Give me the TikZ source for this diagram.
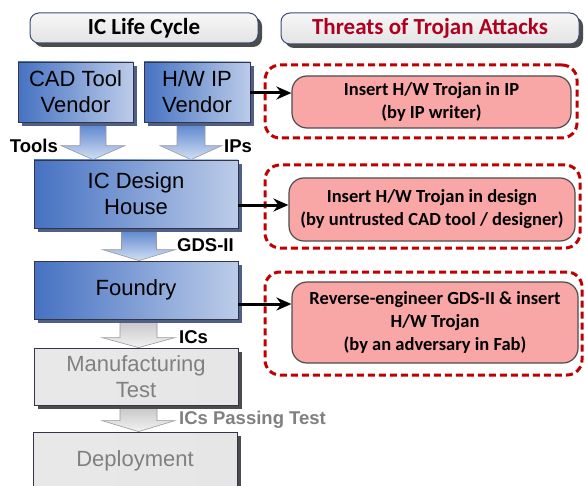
\documentclass[tikz,border=0pt]{standalone}
\usepackage{fontspec}
\setmainfont{Liberation Sans}
\newfontfamily\carl{Carlito}
\usetikzlibrary{calc,shadows,arrows.meta,backgrounds}
\definecolor{blueL}{HTML}{4672C2}
\definecolor{blueR}{HTML}{BCCCE9}
\definecolor{boxborder}{HTML}{33364A}
\definecolor{shadowblue}{HTML}{4F5F85}
\definecolor{arrtop}{HTML}{5682CC}
\definecolor{arrbot}{HTML}{D3DFF3}
\definecolor{graytop}{HTML}{C4C4C4}
\definecolor{graybot}{HTML}{F2F2F2}
\definecolor{grayfill}{HTML}{E6E6E6}
\definecolor{graytext}{HTML}{808080}
\definecolor{pinkfill}{HTML}{F9A6A6}
\definecolor{dashred}{HTML}{C00000}
\definecolor{threatred}{HTML}{B00020}
\definecolor{hdrborder}{HTML}{3A4C78}
\newcommand\blockarr[7]{%
  \path[#1] let \p1=(#3), \p2=(#4) in
    (#2pt-#5pt,\y1) -- (#2pt-#5pt,\y2+#7pt) -- (#2pt-#6pt,\y2+#7pt) -- (#2pt,\y2)
    -- (#2pt+#6pt,\y2+#7pt) -- (#2pt+#5pt,\y2+#7pt) -- (#2pt+#5pt,\y1) -- cycle;}
\begin{document}
\begin{tikzpicture}[x=1pt,y=-1pt,
  hdr/.style={draw=hdrborder, line width=1pt, rounded corners=9pt,
    top color=gray!6, bottom color=gray!22,
    general shadow={shadow xshift=4pt, shadow yshift=-4pt, fill=gray!60!black, rounded corners=9pt},
    font=\carl\bfseries\fontsize{23}{27}\selectfont, inner sep=0pt},
  bluebox/.style={draw=boxborder, line width=0.8pt, left color=blueL, right color=blueR,
    general shadow={shadow xshift=4pt, shadow yshift=-4pt, fill=shadowblue},
    font=\fontsize{22}{26}\selectfont, align=center, inner sep=0pt},
  graybox/.style={draw=boxborder, line width=0.8pt, left color=grayfill!90!white, right color=grayfill,
    general shadow={shadow xshift=4pt, shadow yshift=-4pt, fill=gray!60!black},
    font=\fontsize{22}{26}\selectfont, align=center, inner sep=0pt, text=graytext},
  threat/.style={draw=black!70, line width=1.2pt, fill=pinkfill, rounded corners=15pt,
    font=\carl\bfseries\fontsize{18.5}{23}\selectfont, align=center, inner sep=0pt},
  dashbox/.style={draw=dashred, line width=3pt, dash pattern=on 7pt off 4pt, rounded corners=15pt, inner sep=0pt},
  lbl/.style={font=\bfseries\fontsize{18.5}{20}\selectfont, inner sep=0pt},
  conn/.style={draw=black, line width=3pt, -{Stealth[length=15pt,width=13pt]}},
  barrow/.style={top color=arrtop, bottom color=arrbot, draw=gray!80, line width=0.6pt},
  garrow/.style={top color=graytop, bottom color=graybot, draw=gray!80, line width=0.6pt}]
\clip (0,0) rectangle (585,486);
\useasboundingbox (0,0) rectangle (585,486);

% headers
\node[hdr, minimum width=228pt, minimum height=30pt] (h1) at (144,28) {IC Life Cycle};
\node[hdr, minimum width=298pt, minimum height=31pt, text=threatred] (h2) at (430,28.5) {Threats of Trojan Attacks};

% life cycle boxes
\node[bluebox, minimum width=115pt, minimum height=60pt] (cad) at (75.5,92) {CAD Tool\\Vendor};
\node[bluebox, minimum width=106pt, minimum height=60pt] (hw) at (197,92) {H/W IP\\Vendor};
\node[bluebox, minimum width=204pt, minimum height=68pt] (design) at (136,194) {IC Design\\House};
\node[bluebox, minimum width=204pt, minimum height=58pt] (foundry) at (136,290) {Foundry};
\node[graybox, minimum width=204pt, minimum height=57pt] (mtest) at (136,376.5) {Manufacturing\\Test};
\node[graybox, minimum width=204pt, minimum height=58pt] (deploy) at (135,461) {Deployment};

% block arrows
\begin{pgfonlayer}{background}
\fill[white] (0,0) rectangle (585,486);
\blockarr{barrow}{93}{cad.south}{design.north}{13}{32}{14}
\blockarr{barrow}{191}{hw.south}{design.north}{14}{31}{14}
\blockarr{barrow}{139}{design.south}{foundry.north}{17.5}{36.5}{11}
\blockarr{garrow}{138.5}{foundry.south}{mtest.north}{18.5}{36.5}{10}
\blockarr{garrow}{138.5}{mtest.south}{deploy.north}{18.5}{36.5}{11}
\end{pgfonlayer}

% labels
\node[lbl, anchor=east] (ltools) at (58,146) {Tools};
\node[lbl, anchor=west] (lips) at (224,146) {IPs};
\node[lbl, anchor=west] (lgds) at (177,245) {GDS-II};
\node[lbl, anchor=west] (lics) at (179,337) {ICs};
\node[lbl, anchor=west, text=graytext] (lpass) at (179,420) {ICs Passing Test};

% threats
\node[dashbox, minimum width=312pt, minimum height=73pt] (d1) at (421,101.5) {};
\node[dashbox, minimum width=315pt, minimum height=83pt] (d2) at (422.5,206.5) {};
\node[dashbox, minimum width=317pt, minimum height=103pt] (d3) at (423.5,323.5) {};
\node[threat, minimum width=279pt, minimum height=52pt] (p1) at (431.5,102) {Insert H/W Trojan in IP\\(by IP writer)};
\node[threat, minimum width=286pt, minimum height=63pt] (p2) at (432,209.5) {Insert H/W Trojan in design\\(by untrusted CAD tool / designer)};
\node[threat, minimum width=286pt, minimum height=81pt] (p3) at (435,322.5) {Reverse-engineer GDS-II \& insert\\H/W Trojan\\(by an adversary in Fab)};

% connectors
\coordinate (a1) at ($(hw.east)+(0,1)$);
\coordinate (a2) at ($(design.east)+(0,11)$);
\coordinate (a3) at ($(foundry.east)+(0,14)$);
\draw[conn] (a1) -- (a1 -| p1.west);
\draw[conn] (a2) -- (a2 -| p2.west);
\draw[conn] (a3) -- (a3 -| p3.west);
\end{tikzpicture}
\end{document}
